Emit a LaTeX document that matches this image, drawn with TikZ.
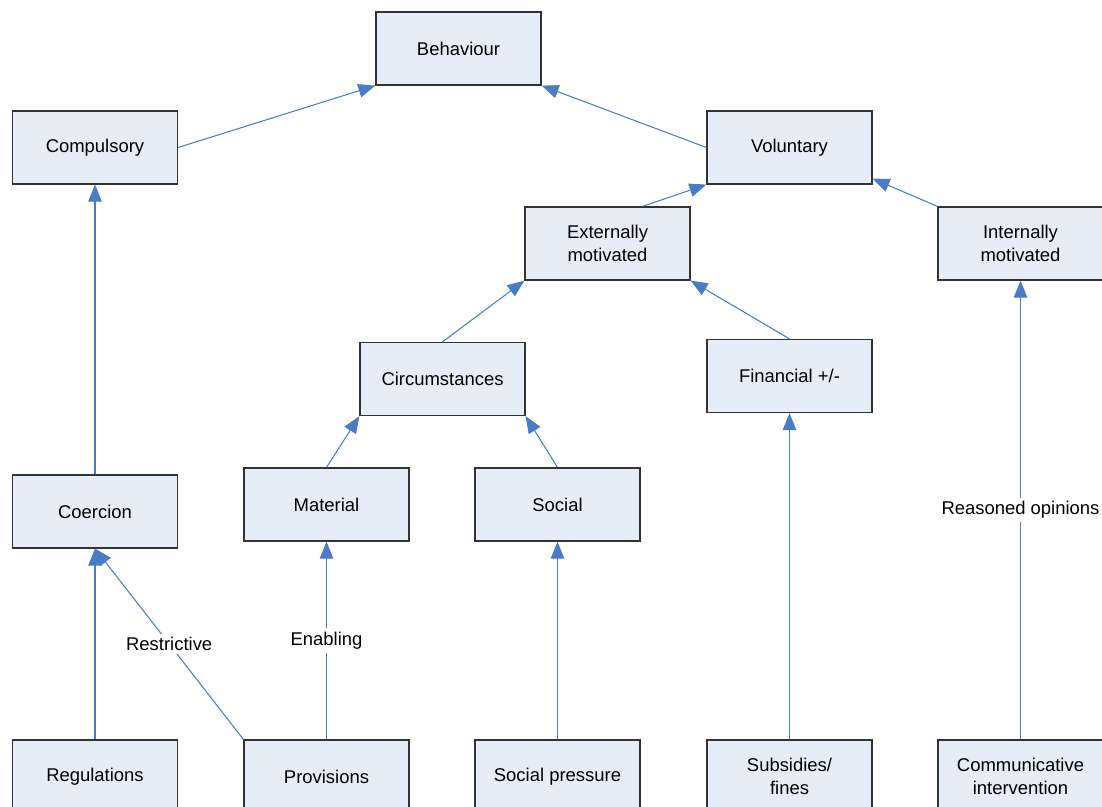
\documentclass[tikz,border=0pt]{standalone}
\usepackage{fontspec}
\setmainfont{Liberation Sans}
\usetikzlibrary{calc,arrows.meta}

\definecolor{boxfill}{HTML}{E7EDF7}
\definecolor{boxline}{HTML}{333333}
\definecolor{linkblue}{HTML}{4A7BC6}

\tikzset{
    box/.style={draw=boxline, fill=boxfill, line width=0.7pt,
        minimum width=3.3cm, minimum height=1.46cm, align=center,
        font=\fontsize{10.5}{13}\selectfont},
    link/.style={color=linkblue, line width=0.6pt,
        -{Triangle[length=0.34cm,width=0.27cm]}},
    tag/.style={fill=white, text=black, inner sep=2pt,
        font=\fontsize{10.5}{13}\selectfont}
}

\begin{document}
\begin{tikzpicture}[x=0.02cm, y=-0.02cm]
        \clip (0,0) rectangle (1102,807);

        % Draw the boxes
        \node[box] (beh) at (458.5,48.5) {Behaviour};
        \node[box] (comp) at (95,147.5) {Compulsory};
        \node[box] (vol) at (789.5,147.5) {Voluntary};
        \node[box] (ext) at (607.5,243.5) {Externally\\motivated};
        \node[box] (int) at (1020.5,243.5) {Internally\\motivated};
        \node[box] (circ) at (442.5,379) {Circumstances};
        \node[box] (fin) at (789.5,376) {Financial +/-};
        \node[box] (coer) at (95,511.5) {Coercion};
        \node[box] (mat) at (326.5,504.5) {Material};
        \node[box] (soc) at (557.5,504.5) {Social};
        \node[box] (reg) at (95,776.5) {Regulations};
        \node[box] (prov) at (326.5,776.5) {Provisions};
        \node[box] (press) at (557.5,776.5) {Social pressure};
        \node[box] (subs) at (789.5,776.5) {Subsidies/\\fines};
        \node[box] (comm) at (1020.5,776.5) {Communicative\\intervention};

        % Connect the boxes with arrows
        \path[every edge/.append style=link]
            (comp.east) edge (beh.south west)
            (vol.west) edge (beh.south east)
            ($(ext.north west)!0.71!(ext.north east)$) edge (vol.south west)
            (int.north west) edge ($(vol.south east)+(0,-6)$)
            (circ.north) edge (ext.south west)
            (fin.north) edge (ext.south east)
            (mat.north) edge (circ.south west)
            (soc.north) edge (circ.south east)
            (coer.north) edge (comp.south)
            (reg.north) edge (coer.south)
            (prov.north west) edge node[tag] {Restrictive} (coer.south)
            (prov.north) edge node[tag] {Enabling} (mat.south)
            (press.north) edge (soc.south)
            (subs.north) edge (fin.south)
            (comm.north) edge node[tag] {Reasoned opinions} (int.south);
    \end{tikzpicture}
\end{document}
